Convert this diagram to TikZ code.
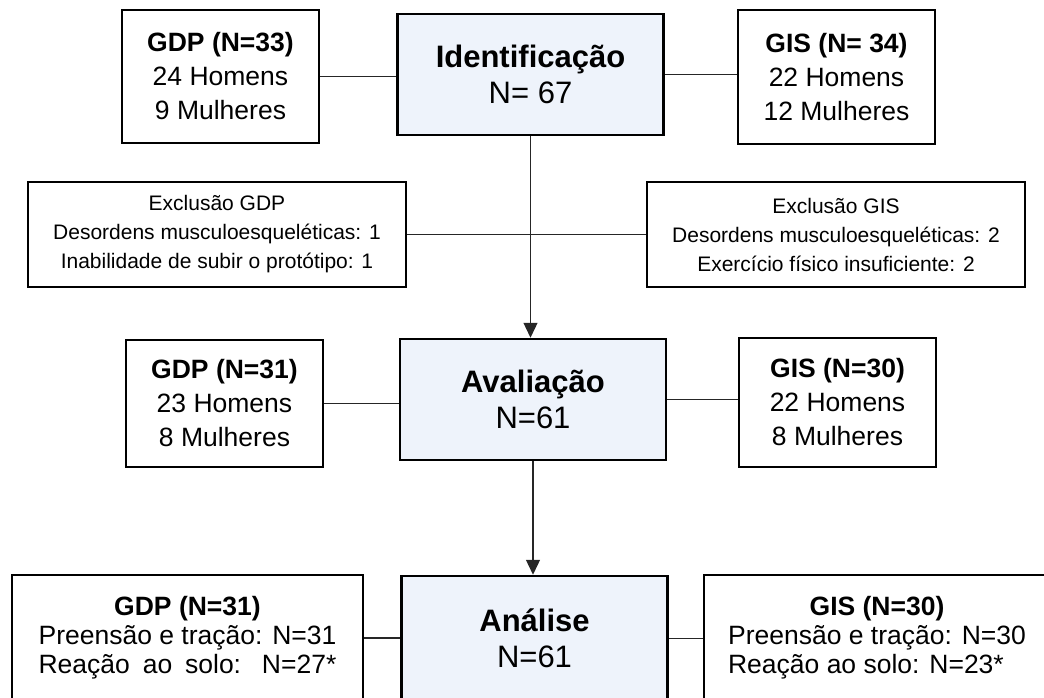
\documentclass[tikz,border=0pt]{standalone}
\usepackage{fontspec}
\setmainfont{Liberation Sans}
\usepackage{xcolor}
\usepackage{tikz}
\usetikzlibrary{arrows.meta,positioning}
\definecolor{azulclaro}{RGB}{238,243,251}
\newlength{\largura}
\newcommand{\estica}[3][s]{\settowidth{\largura}{#2}\makebox[\largura][#1]{#3}}
\tikzset{
  principal/.style={draw=black,line width=2.5pt,fill=azulclaro,align=center,inner sep=0pt,
    minimum width=266pt,minimum height=121pt,font=\fontsize{31}{36}\selectfont},
  grupo/.style={draw=black,line width=1.5pt,fill=white,align=center,inner sep=0pt,
    minimum width=197pt,font=\fontsize{26.5}{34}\selectfont},
  exclusao/.style={draw=black,line width=1.5pt,fill=white,align=center,inner sep=0pt,
    minimum width=378pt,minimum height=105pt,font=\fontsize{21}{29}\selectfont},
  linha/.style={line width=1.3pt,draw=black!85},
  seta/.style={linha,-{Triangle[length=15pt,width=14pt]}}
}
\begin{document}
\begin{tikzpicture}[x=1pt,y=-1pt]
\useasboundingbox (0,0) rectangle (1044,698);
\clip (0,0) rectangle (1044,698);
% etapa 1
\node[principal] (ident) at (530.5,74.5) {\textbf{Identificação}\\N= 67};
\node[grupo,minimum height=133pt] (gdpA) at (220.5,76.5) {\textbf{GDP (N=33)}\\24 Homens\\9 Mulheres};
\node[grupo,minimum height=134pt] (gisA) at (836.5,77) {\textbf{GIS (N= 34)}\\22 Homens\\12 Mulheres};
% exclusoes
\node[exclusao] (excGDP) at (217,234.5) {Exclusão GDP\\Desordens musculoesqueléticas: 1\\Inabilidade de subir o protótipo: 1};
\node[exclusao] (excGIS) at (836,234.5) {Exclusão GIS\\Desordens musculoesqueléticas: 2\\Exercício físico insuficiente: 2};
% etapa 2
\node[principal] (aval) at (533,399.5) {\textbf{Avaliação}\\N=61};
\node[grupo,minimum height=127pt] (gdpB) at (224.5,403.5) {\textbf{GDP (N=31)}\\23 Homens\\8 Mulheres};
\node[grupo,minimum height=129pt] (gisB) at (837.5,402.5) {\textbf{GIS (N=30)}\\22 Homens\\8 Mulheres};
% etapa 3 (cortada embaixo)
\node[principal,minimum height=125pt] (anal) at (534.5,638.5) {\textbf{Análise}\\N=61};
\node[grupo,minimum width=351pt,minimum height=126pt,font=\fontsize{26.5}{29}\selectfont] (gdpC) at (187.5,638)
  {\textbf{GDP (N=31)}\\Preensão e tração: N=31\\\estica{Preensão e tração: N=31}{Reação ao solo: N=27*}};
\node[grupo,minimum width=346pt,minimum height=126pt,font=\fontsize{26.5}{29}\selectfont] (gisC) at (877,638)
  {\textbf{GIS (N=30)}\\Preensão e tração: N=30\\\estica[l]{Preensão e tração: N=30}{Reação ao solo: N=23*}};
% ligacoes
\draw[linha] (gdpA.east) -- (gdpA.east -| ident.west);
\draw[linha] (ident.east) -- (ident.east -| gisA.west);
\draw[linha] (excGDP.east) -- (excGIS.west);
\draw[seta] (ident.south) -- (ident.south |- aval.north);
\draw[linha] (gdpB.east) -- (gdpB.east -| aval.west);
\draw[linha] (aval.east) -- (aval.east -| gisB.west);
\draw[seta] (aval.south) -- (aval.south |- anal.north);
\draw[linha] (gdpC.east) -- (gdpC.east -| anal.west);
\draw[linha] (anal.east) -- (anal.east -| gisC.west);
\end{tikzpicture}
\end{document}
